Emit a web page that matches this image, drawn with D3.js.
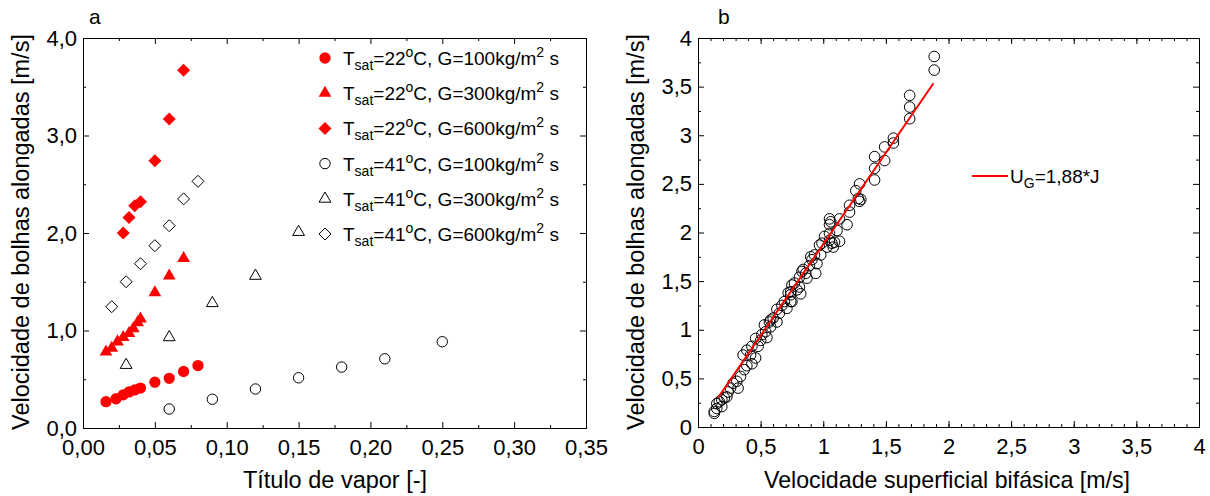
<!DOCTYPE html>
<html>
<head>
<meta charset="utf-8">
<script src="https://d3js.org/d3.v7.min.js"></script>
<style>
  body { margin: 0; background: #fff; }
  text { font-family: "Liberation Sans", Arial, sans-serif; white-space: pre; }
</style>
</head>
<body>
<svg width="1210" height="496"></svg>
<script>
// ---- panel a data (titulo de vapor x, velocidade y)
var x22g100 = [0.016, 0.023, 0.028, 0.032, 0.036, 0.040, 0.050, 0.060, 0.070, 0.080];
var y22g100 = [0.27, 0.30, 0.34, 0.37, 0.39, 0.41, 0.47, 0.51, 0.58, 0.64];
var x22g300 = [0.016, 0.020, 0.024, 0.028, 0.032, 0.035, 0.038, 0.040, 0.050, 0.060, 0.070];
var y22g300 = [0.78, 0.82, 0.885, 0.93, 0.97, 1.02, 1.08, 1.12, 1.39, 1.56, 1.74];
var x22g600 = [0.028, 0.032, 0.036, 0.040, 0.050, 0.060, 0.070];
var y22g600 = [2.00, 2.16, 2.28, 2.32, 2.74, 3.17, 3.67];
var x41g100 = [0.06, 0.09, 0.12, 0.15, 0.18, 0.21, 0.25];
var y41g100 = [0.195, 0.295, 0.40, 0.515, 0.625, 0.71, 0.885];
var x41g300 = [0.03, 0.06, 0.09, 0.12, 0.15];
var y41g300 = [0.646, 0.93, 1.28, 1.56, 2.01];
var x41g600 = [0.02, 0.03, 0.04, 0.05, 0.06, 0.07, 0.08];
var y41g600 = [1.244, 1.50, 1.685, 1.87, 2.075, 2.35, 2.53];

var seriesTemp = ["22", "22", "22", "41", "41", "41"];
var seriesG = ["100", "300", "600", "100", "300", "600"];

var aXTicks = [0, 0.05, 0.10, 0.15, 0.20, 0.25, 0.30, 0.35];
var aXLabels = ["0,00", "0,05", "0,10", "0,15", "0,20", "0,25", "0,30", "0,35"];
var aYTicks = [0, 1, 2, 3, 4];
var aYLabels = ["0,0", "1,0", "2,0", "3,0", "4,0"];

// ---- panel b data (J, U_G)
var jVals = [1.886, 1.886, 1.69, 1.69, 1.69, 1.56, 1.56, 1.49, 1.49, 1.41, 1.41, 1.41,
  1.29, 1.26, 1.28, 1.30, 1.29, 1.21, 1.21, 1.19, 1.13, 1.05, 1.05, 1.11, 1.05, 1.13,
  1.05, 0.97, 1.08, 0.99, 1.09, 1.03, 0.98, 0.91, 0.95, 0.89, 0.94, 0.86, 0.81, 0.87,
  0.81, 0.75, 0.74, 0.82, 0.75, 0.71, 0.63, 0.65, 0.63, 0.57, 0.58, 0.54, 0.51, 0.55,
  0.50, 0.46, 0.48, 0.43, 0.39, 0.36, 0.42, 0.46, 0.43, 0.39, 0.37, 0.34, 0.31, 0.32,
  0.26, 0.23, 0.19, 0.15, 0.19, 0.15, 0.13, 0.13, 1.06, 1.01, 1.07, 0.93, 0.83, 0.79,
  0.74, 0.69, 0.74, 0.58, 0.28, 0.24, 0.21, 0.17, 0.53, 0.60, 0.67, 0.72, 0.77, 0.84, 0.90];
var ugVals = [3.81, 3.67, 3.41, 3.29, 3.17, 2.97, 2.92, 2.88, 2.74, 2.78, 2.66, 2.54,
  2.50, 2.43, 2.35, 2.34, 2.32, 2.28, 2.21, 2.08, 2.14, 2.14, 2.08, 2.02, 1.99, 1.91,
  1.92, 1.87, 1.85, 1.89, 1.90, 1.85, 1.77, 1.72, 1.68, 1.66, 1.58, 1.58, 1.54, 1.53,
  1.44, 1.46, 1.39, 1.37, 1.29, 1.22, 1.21, 1.17, 1.08, 1.08, 1.03, 0.98, 0.95, 0.92,
  0.89, 0.91, 0.83, 0.83, 0.79, 0.74, 0.74, 0.71, 0.65, 0.63, 0.59, 0.52, 0.47, 0.40,
  0.40, 0.31, 0.28, 0.24, 0.21, 0.19, 0.16, 0.14, 2.11, 1.96, 1.89, 1.77, 1.60, 1.41,
  1.36, 1.29, 1.29, 1.10, 0.45, 0.36, 0.30, 0.26, 1.05, 1.12, 1.25, 1.38, 1.48, 1.62, 1.75];
var fitSlope = 1.88;
var fitRange = [0.16, 1.88];

var bTicks = [0, 0.5, 1, 1.5, 2, 2.5, 3, 3.5, 4];
var bLabels = ["0", "0,5", "1", "1,5", "2", "2,5", "3", "3,5", "4"];

var svg = d3.select("svg");
var red = "#ff0000";

function zip(xs, ys) { return xs.map(function(d, i) { return [d, ys[i]]; }); }
function range(a, b, s) { var r = []; for (var v = a; v <= b + 1e-9; v += s) r.push(+v.toFixed(4)); return r; }

function drawFrame(x, y, xMaj, xLab, xMin, yMaj, yLab, yMin) {
  var xr = x.range(), yr = y.range();
  var g = svg.append("g");
  function style(sel) {
    sel.attr("font-size", 22).attr("font-family", "Liberation Sans, Arial, sans-serif");
    sel.selectAll("line").attr("stroke", "#000");
    sel.select(".domain").attr("stroke", "#000");
  }
  // bottom
  g.append("g").attr("transform", "translate(0," + yr[0] + ")")
    .call(d3.axisBottom(x).tickValues(xMin).tickSize(-3).tickSizeOuter(0).tickFormat("")).call(style);
  g.append("g").attr("transform", "translate(0," + yr[0] + ")")
    .call(d3.axisBottom(x).tickValues(xMaj).tickSize(-6).tickSizeOuter(0).tickPadding(11)
      .tickFormat(function(d, i) { return xLab[i]; })).call(style);
  // top
  g.append("g").attr("transform", "translate(0," + yr[1] + ")")
    .call(d3.axisTop(x).tickValues(xMin).tickSize(-3).tickSizeOuter(0).tickFormat("")).call(style);
  g.append("g").attr("transform", "translate(0," + yr[1] + ")")
    .call(d3.axisTop(x).tickValues(xMaj).tickSize(-6).tickSizeOuter(0).tickFormat("")).call(style);
  // left
  g.append("g").attr("transform", "translate(" + xr[0] + ",0)")
    .call(d3.axisLeft(y).tickValues(yMin).tickSize(-3).tickSizeOuter(0).tickFormat("")).call(style);
  g.append("g").attr("transform", "translate(" + xr[0] + ",0)")
    .call(d3.axisLeft(y).tickValues(yMaj).tickSize(-6).tickSizeOuter(0).tickPadding(6)
      .tickFormat(function(d, i) { return yLab[i]; })).call(style);
  // right
  g.append("g").attr("transform", "translate(" + xr[1] + ",0)")
    .call(d3.axisRight(y).tickValues(yMin).tickSize(-3).tickSizeOuter(0).tickFormat("")).call(style);
  g.append("g").attr("transform", "translate(" + xr[1] + ",0)")
    .call(d3.axisRight(y).tickValues(yMaj).tickSize(-6).tickSizeOuter(0).tickFormat("")).call(style);
}

// ================= panel a
var xa = d3.scaleLinear().domain([0, 0.35]).range([83, 586]);
var ya = d3.scaleLinear().domain([0, 4]).range([428, 38]);

drawFrame(xa, ya, aXTicks, aXLabels, range(0.025, 0.325, 0.05), aYTicks, aYLabels, range(0.5, 3.5, 1));

var diamond = function(r) { return "M0," + (-r) + "L" + r + ",0L0," + r + "L" + (-r) + ",0Z"; };
var markers = [
  { path: d3.symbol().type(d3.symbolCircle).size(100)(), fill: red, stroke: "none" },
  { path: d3.symbol().type(d3.symbolTriangle).size(70)(), fill: red, stroke: "none" },
  { path: diamond(6.5), fill: red, stroke: "none" },
  { path: d3.symbol().type(d3.symbolCircle).size(85)(), fill: "none", stroke: "#000" },
  { path: d3.symbol().type(d3.symbolTriangle).size(60)(), fill: "none", stroke: "#000" },
  { path: diamond(6), fill: "none", stroke: "#000" }
];
var seriesA = [zip(x22g100, y22g100), zip(x22g300, y22g300), zip(x22g600, y22g600),
  zip(x41g100, y41g100), zip(x41g300, y41g300), zip(x41g600, y41g600)];

seriesA.forEach(function(s, k) {
  svg.append("g").selectAll("path").data(s).enter().append("path")
    .attr("transform", function(d) { return "translate(" + xa(d[0]) + "," + ya(d[1]) + ")"; })
    .attr("d", markers[k].path)
    .attr("fill", markers[k].fill)
    .attr("stroke", markers[k].stroke)
    .attr("stroke-width", 1);
});

// legend a
var leg = svg.append("g");
seriesTemp.forEach(function(t, i) {
  var cy = 58 + i * 35.2;
  leg.append("path").attr("transform", "translate(325," + cy + ")")
    .attr("d", markers[i].path).attr("fill", markers[i].fill)
    .attr("stroke", markers[i].stroke).attr("stroke-width", 1);
  var tx = leg.append("text").attr("x", 343).attr("y", cy + 7).attr("font-size", 19);
  tx.append("tspan").text("T");
  tx.append("tspan").attr("font-size", 14).attr("dy", 5).text("sat");
  tx.append("tspan").attr("dy", -5).text("=" + t);
  tx.append("tspan").attr("font-size", 14).attr("dy", -8).text("o");
  tx.append("tspan").attr("dy", 8).text("C, G=" + seriesG[i] + "kg/m");
  tx.append("tspan").attr("font-size", 14).attr("dy", -8).text("2");
  tx.append("tspan").attr("dy", 8).text(" s");
});

svg.append("text").attr("x", 89).attr("y", 24).attr("font-size", 21).text("a");
svg.append("text").attr("x", 335).attr("y", 488).attr("font-size", 23.5)
  .attr("text-anchor", "middle").text("Título de vapor [-]");
svg.append("text").attr("transform", "translate(29,232) rotate(-90)").attr("font-size", 23.5)
  .attr("text-anchor", "middle").text("Velocidade de bolhas alongadas [m/s]");

// ================= panel b
var xb = d3.scaleLinear().domain([0, 4]).range([698, 1199]);
var yb = d3.scaleLinear().domain([0, 4]).range([427, 38]);

drawFrame(xb, yb, bTicks, bLabels, range(0.1, 3.9, 0.1), bTicks, bLabels, range(0.25, 3.75, 0.5));

svg.append("g").selectAll("circle").data(zip(jVals, ugVals)).enter().append("circle")
  .attr("cx", function(d) { return xb(d[0]); })
  .attr("cy", function(d) { return yb(d[1]); })
  .attr("r", 5.3)
  .attr("fill", "none")
  .attr("stroke", "#000")
  .attr("stroke-width", 1);

var fitLine = d3.line().x(function(d) { return xb(d); }).y(function(d) { return yb(fitSlope * d); });
svg.append("path").datum(fitRange).attr("d", fitLine)
  .attr("fill", "none").attr("stroke", red).attr("stroke-width", 2);

svg.append("line").attr("x1", 972).attr("x2", 1008).attr("y1", 176).attr("y2", 176)
  .attr("stroke", red).attr("stroke-width", 2);
var lt = svg.append("text").attr("x", 1010).attr("y", 183).attr("font-size", 19);
lt.append("tspan").text("U");
lt.append("tspan").attr("font-size", 14).attr("dy", 5).text("G");
lt.append("tspan").attr("dy", -5).text("=1,88*J");

svg.append("text").attr("x", 718).attr("y", 24).attr("font-size", 21).text("b");
svg.append("text").attr("x", 947).attr("y", 488).attr("font-size", 23.2)
  .attr("text-anchor", "middle").text("Velocidade superficial bifásica [m/s]");
svg.append("text").attr("transform", "translate(644,232) rotate(-90)").attr("font-size", 23.5)
  .attr("text-anchor", "middle").text("Velocidade de bolhas alongadas [m/s]");
</script>
</body>
</html>
